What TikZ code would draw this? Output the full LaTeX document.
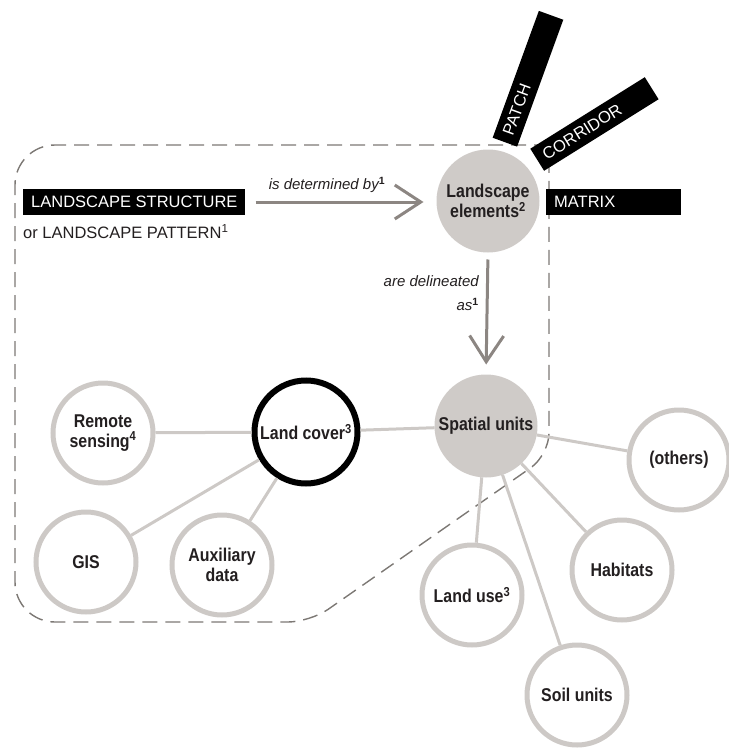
\documentclass[tikz,border=0pt]{standalone}
\usepackage{fontspec}
\setmainfont{Liberation Sans}
\newfontfamily\condfont[FakeStretch=0.86]{Liberation Sans}
\usepackage{tikz}
\usetikzlibrary{arrows.meta,positioning}

\definecolor{ringgray}{HTML}{CDC9C6}
\definecolor{coregray}{HTML}{CFCBC8}
\definecolor{arrowgray}{HTML}{8C8682}
\definecolor{dashgray}{HTML}{7C7874}
\definecolor{ink}{HTML}{231F20}

\begin{document}
\begin{tikzpicture}[x=1pt, y=-1pt,
        unit/.style={circle, draw=ringgray, line width=5pt, fill=white, minimum size=100pt, inner sep=0pt,
            align=center, text=ink, font=\condfont\bfseries\fontsize{18.5}{19.5}\selectfont},
        core/.style={unit, draw=none, fill=coregray, minimum size=103pt, outer sep=0pt},
        cover/.style={unit, draw=black, line width=6pt, minimum size=103pt},
        link/.style={draw=ringgray, line width=3pt},
        flow/.style={draw=arrowgray, line width=3pt, -{Straight Barb[length=26pt, width=34pt]}},
        frame/.style={draw=dashgray, line width=1.4pt, dash pattern=on 15pt off 8pt},
        tag/.style={fill=black, text=white, font=\fontsize{16.5}{18}\selectfont, minimum height=26pt,
            inner xsep=8pt, inner ysep=0pt},
        bar/.style={tag, text width=119pt, align=left, anchor=west},
        verb/.style={text=ink, font=\itshape\fontsize{15}{24}\selectfont, inner sep=0pt}
    ]
    \useasboundingbox (0,0) rectangle (728,749);

    % dashed frame
    \draw[frame] (549,145) [rounded corners=40pt] -- (15,145) -- (15,622)
        [rounded corners=22pt] -- (310,622) -- (549,455) -- (549,145);

    % upper part
    \node[tag, anchor=west] (struct) at (23,202) {LANDSCAPE STRUCTURE};
    \node[below=9pt of struct.south west, anchor=north west, inner sep=0pt, text=ink,
        font=\fontsize{16.5}{18}\selectfont] (pattern) {or LANDSCAPE PATTERN\textsuperscript{1}};

    \node[core] (elem) at (488,201) {Landscape\\elements\textsuperscript{2}};
    \path (elem) ++(74:61pt) node[bar, rotate=70] (patch) {PATCH};
    \path (elem) ++(40:64pt) node[bar, rotate=32] (corridor) {CORRIDOR};
    \path (elem) ++(-1:58pt) node[bar] (matrix) {MATRIX};

    \draw[flow, shorten <=10pt, shorten >=13pt] (struct.east) -- (struct.east -| elem.west);
    \node[verb] (determ) at (327,185) {is determined by\textsuperscript{\upshape\bfseries 1}};

    \node[core] (spatial) at (486,426) {Spatial units};
    \draw[flow, shorten <=7pt, shorten >=10pt] (elem.south) -- (spatial.north);
    \node[verb, anchor=east, align=right] (delin) at (479,293) {are delineated\\as\textsuperscript{\upshape\bfseries 1}};

    % spatial units and their sources
    \node[cover] (cover) at (306,432) {Land cover\textsuperscript{3}};
    \node[unit] (remote) at (103,433) {Remote\\sensing\textsuperscript{4}};
    \node[unit] (gis) at (86,562) {GIS};
    \node[unit] (aux) at (222,565) {Auxiliary\\data};
    \node[unit] (others) at (679,460) {(others)};
    \node[unit] (landuse) at (472,595) {Land use\textsuperscript{3}};
    \node[unit] (habitats) at (622,570) {Habitats};
    \node[unit] (soil) at (577,695) {Soil units};

    \draw[link] (remote) -- (cover);
    \draw[link] (gis) -- (cover);
    \draw[link] (aux) -- (cover);
    \draw[link] (cover) -- (spatial);
    \draw[link] (spatial) -- (others);
    \draw[link] (spatial) -- (habitats);
    \draw[link] (spatial) -- (soil);
    \draw[link] (spatial) -- (landuse);

\end{tikzpicture}
\end{document}
